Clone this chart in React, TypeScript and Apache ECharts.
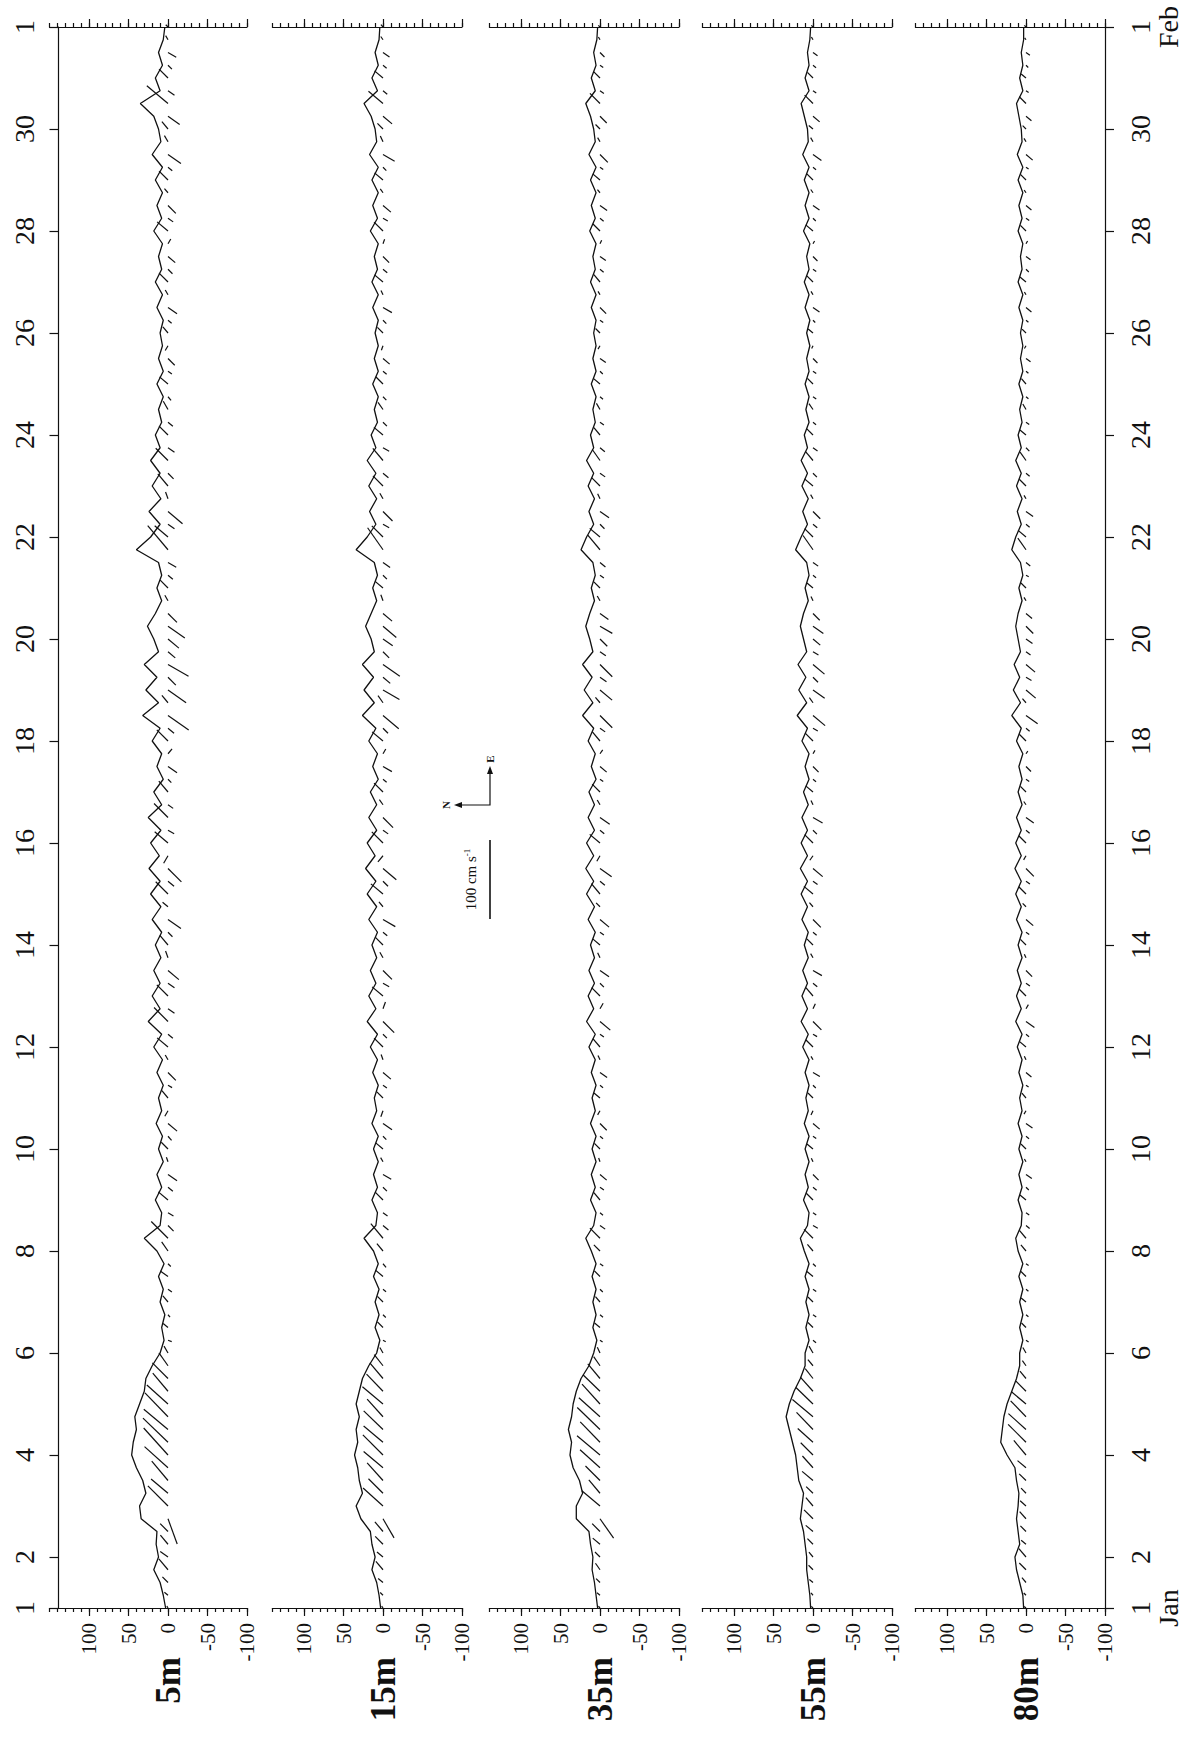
import React, { useEffect, useRef } from "react";
import * as echarts from "echarts";

// ---------- data ----------
const depthLabels = ["5m", "15m", "35m", "55m", "80m"];
const valueTicks = [100, 50, 0, -50, -100];
// days since Jan 1 00:00 at which date ticks are drawn
const dayTickValues = [0, 1, 3, 5, 7, 9, 11, 13, 15, 17, 19, 21, 23, 25, 27, 29, 31];
const dayTickLabels = ["1", "2", "4", "6", "8", "10", "12", "14", "16", "18", "20", "22", "24", "26", "28", "30", "1"];
const monthLabels = ["Jan", "Feb"];
const samplesPerDay = 4; // 6-hourly samples

// speed (cm/s), 6-hourly from Jan 1 00:00 to Feb 1 00:00
const speed5m = [
  3, 6, 10, 18, 12, 15, 14, 34, 36, 28, 32, 40, 46, 44, 40, 42, 36, 30, 28, 20,
  10, 5, 8, 4, 10, 6, 12, 5, 14, 30, 10, 8, 16, 8, 14, 6, 12, 7, 15, 8,
  12, 6, 14, 7, 18, 8, 25, 10, 20, 10, 18, 9, 16, 8, 20, 9, 22, 10, 24, 11,
  22, 9, 25, 8, 18, 6, 14, 8, 20, 10, 32, 12, 28, 14, 30, 12, 18, 26, 16, 8,
  14, 8, 12, 40, 22, 10, 24, 9, 20, 10, 22, 10, 16, 8, 12, 6, 14, 6, 12, 7,
  10, 6, 14, 7, 16, 8, 12, 7, 18, 8, 14, 7, 16, 7, 20, 9, 12, 18, 35, 10,
  16, 7, 12, 6, 4,
];
const speed15m = [
  3, 5, 8, 14, 10, 14, 16, 28, 34, 26, 30, 32, 36, 32, 34, 30, 34, 30, 26, 18,
  8, 4, 10, 5, 10, 5, 12, 6, 12, 24, 9, 7, 14, 7, 12, 6, 12, 6, 14, 8,
  11, 6, 13, 7, 16, 7, 20, 9, 18, 9, 16, 8, 14, 7, 18, 8, 20, 9, 22, 10,
  20, 8, 18, 8, 16, 6, 13, 7, 18, 9, 26, 11, 24, 12, 26, 11, 15, 22, 15, 8,
  13, 7, 11, 34, 20, 9, 17, 8, 18, 9, 20, 9, 15, 7, 11, 6, 13, 6, 11, 6,
  10, 6, 13, 6, 14, 7, 11, 6, 16, 7, 13, 6, 14, 6, 17, 8, 10, 15, 24, 7,
  14, 6, 10, 5, 4,
];
const speed35m = [
  3, 5, 7, 10, 9, 12, 14, 30, 30, 22, 26, 34, 38, 36, 40, 36, 34, 30, 24, 14,
  8, 4, 9, 5, 9, 5, 10, 5, 11, 18, 8, 5, 12, 6, 11, 5, 10, 5, 12, 6,
  10, 5, 11, 6, 14, 6, 17, 8, 15, 7, 14, 7, 12, 6, 15, 7, 17, 8, 18, 8,
  17, 7, 15, 7, 14, 5, 11, 6, 15, 8, 22, 9, 20, 10, 22, 9, 13, 18, 13, 7,
  11, 6, 9, 24, 17, 8, 14, 7, 15, 8, 17, 8, 12, 6, 9, 5, 11, 5, 9, 5,
  8, 5, 11, 5, 12, 6, 9, 5, 13, 6, 11, 5, 12, 5, 14, 6, 8, 12, 18, 6,
  11, 5, 8, 4, 3,
];
const speed55m = [
  3, 4, 6, 8, 8, 10, 12, 16, 14, 12, 18, 20, 22, 26, 30, 34, 30, 24, 16, 10,
  10, 5, 9, 5, 9, 5, 10, 5, 11, 16, 7, 5, 12, 6, 10, 5, 10, 5, 11, 6,
  9, 5, 10, 5, 13, 6, 15, 7, 14, 7, 13, 6, 11, 6, 14, 7, 15, 7, 16, 7,
  15, 7, 14, 6, 12, 5, 10, 5, 14, 7, 20, 8, 18, 9, 19, 8, 12, 16, 12, 6,
  10, 5, 8, 22, 15, 7, 13, 6, 14, 7, 15, 7, 11, 5, 9, 5, 10, 5, 8, 4,
  8, 4, 10, 5, 11, 5, 8, 4, 12, 5, 10, 5, 11, 5, 13, 6, 7, 11, 15, 5,
  10, 5, 7, 4, 3,
];
const speed80m = [
  3, 4, 8, 12, 14, 8, 10, 12, 10, 9, 12, 14, 24, 32, 30, 28, 24, 18, 12, 8,
  8, 4, 8, 4, 8, 4, 9, 4, 10, 13, 6, 5, 10, 5, 9, 4, 9, 5, 10, 5,
  8, 4, 9, 5, 11, 5, 13, 6, 12, 6, 11, 5, 10, 5, 12, 6, 13, 6, 14, 6,
  13, 6, 12, 5, 10, 5, 9, 4, 12, 6, 18, 7, 16, 8, 15, 7, 10, 13, 10, 5,
  9, 4, 7, 18, 13, 6, 11, 5, 12, 6, 13, 6, 10, 5, 8, 4, 9, 4, 7, 4,
  7, 4, 9, 4, 10, 5, 7, 4, 10, 5, 9, 4, 10, 4, 11, 5, 6, 9, 12, 4,
  8, 4, 6, 3, 3,
];

// stick direction (degrees clockwise from north), same sampling
const dir5m = [
  60, 40, 45, 50, 35, 50, 45, 250, 45, 40, 50, 42, 48, 44, 40, 46, 42, 50, 45, 55,
  60, 200, 40, 230, 50, 215, 35, 225, 55, 45, 225, 210, 40, 220, 215, 70, 45, 230, 220, 300,
  50, 210, 225, 60, 40, 220, 45, 215, 45, 215, 220, 70, 50, 225, 215, 40, 45, 220, 225, 300,
  40, 210, 45, 215, 50, 225, 215, 130, 45, 220, 215, 50, 215, 225, 210, 220, 220, 215, 225, 60,
  45, 220, 210, 50, 40, 215, 220, 70, 50, 225, 45, 215, 45, 220, 60, 230, 40, 215, 225, 300,
  50, 220, 215, 60, 45, 225, 220, 120, 40, 215, 225, 50, 45, 220, 215, 60, 50, 215, 40, 215,
  45, 225, 210, 60, 45,
];
const dir15m = [
  55, 45, 40, 50, 40, 45, 50, 240, 42, 45, 48, 40, 45, 40, 44, 48, 40, 46, 50, 52,
  60, 210, 45, 225, 45, 220, 40, 230, 50, 50, 220, 215, 45, 225, 210, 60, 40, 225, 215, 290,
  45, 215, 220, 70, 45, 225, 225, 110, 40, 210, 225, 60, 45, 220, 210, 50, 40, 225, 220, 310,
  45, 215, 225, 55, 45, 220, 210, 120, 40, 225, 220, 55, 210, 220, 215, 225, 215, 220, 220, 70,
  40, 225, 215, 55, 45, 210, 225, 60, 45, 220, 50, 210, 40, 225, 55, 225, 45, 220, 220, 290,
  45, 225, 210, 65, 40, 220, 225, 110, 45, 210, 220, 55, 40, 225, 210, 65, 45, 220, 40, 220,
  40, 220, 215, 55, 50,
];
const dir35m = [
  50, 40, 45, 55, 45, 40, 45, 235, 40, 50, 45, 42, 40, 46, 44, 42, 48, 44, 50, 55,
  65, 215, 40, 220, 50, 225, 45, 215, 45, 45, 215, 220, 50, 215, 220, 70, 45, 220, 225, 300,
  40, 220, 215, 65, 50, 215, 220, 120, 45, 225, 215, 65, 40, 215, 220, 45, 50, 220, 215, 300,
  40, 220, 215, 60, 45, 215, 220, 125, 50, 215, 225, 50, 220, 215, 225, 215, 225, 210, 215, 60,
  45, 215, 220, 50, 40, 225, 215, 65, 45, 215, 55, 220, 50, 215, 60, 220, 40, 225, 215, 300,
  45, 215, 225, 60, 50, 220, 215, 115, 45, 220, 215, 50, 40, 215, 225, 60, 45, 225, 45, 215,
  45, 215, 225, 60, 45,
];
const dir55m = [
  45, 50, 40, 45, 50, 45, 40, 45, 50, 44, 40, 48, 45, 42, 46, 40, 44, 48, 52, 50,
  60, 220, 45, 215, 45, 215, 40, 225, 50, 45, 210, 215, 45, 220, 225, 65, 40, 215, 220, 295,
  45, 225, 210, 60, 45, 210, 225, 115, 50, 220, 210, 60, 45, 220, 225, 50, 40, 215, 220, 305,
  45, 225, 210, 65, 40, 220, 225, 120, 45, 210, 220, 55, 215, 225, 220, 210, 220, 215, 225, 65,
  40, 220, 215, 55, 45, 220, 225, 60, 40, 225, 50, 215, 45, 220, 55, 215, 45, 215, 225, 295,
  40, 225, 215, 60, 45, 215, 225, 120, 40, 225, 215, 55, 45, 220, 215, 60, 40, 220, 45, 215,
  45, 220, 215, 60, 45,
];
const dir80m = [
  40, 45, 50, 45, 50, 40, 45, 48, 42, 46, 44, 40, 50, 45, 42, 46, 40, 45, 50, 55,
  60, 215, 45, 220, 40, 220, 45, 215, 50, 50, 220, 215, 40, 225, 215, 60, 45, 220, 215, 300,
  50, 215, 220, 65, 40, 220, 215, 120, 45, 215, 225, 65, 45, 215, 220, 45, 45, 215, 225, 300,
  45, 220, 215, 55, 45, 215, 225, 125, 45, 220, 215, 50, 220, 210, 220, 215, 215, 225, 220, 60,
  45, 210, 220, 55, 40, 220, 215, 60, 45, 220, 55, 225, 40, 215, 60, 220, 50, 220, 215, 300,
  45, 220, 220, 60, 40, 225, 215, 120, 45, 215, 220, 55, 45, 215, 220, 60, 45, 220, 45, 215,
  40, 225, 215, 55, 45,
];

const speeds = [speed5m, speed15m, speed35m, speed55m, speed80m];
const dirs = [dir5m, dir15m, dir35m, dir55m, dir80m];

// ---------- layout ----------
const W = 1193;
const H = 1743;
const PX = 0.79; // pixels per cm/s
const ZERO_X = [168, 383, 600, 813, 1026];
const AXIS_MAX = [150, 140, 140, 140, 140];
const TOP = 27;
const BOTTOM = 1608;
const FONT = "'Liberation Serif', 'Times New Roman', serif";
const INK = "#111";

function buildOption() {
  const grids: any[] = [];
  const xAxes: any[] = [];
  const yAxes: any[] = [];
  const series: any[] = [];

  depthLabels.forEach((_, i) => {
    const left = ZERO_X[i] - AXIS_MAX[i] * PX;
    grids.push({ left, top: TOP, width: (AXIS_MAX[i] + 100) * PX, height: BOTTOM - TOP });

    const baseX = {
      gridIndex: i,
      type: "value",
      inverse: true,
      min: -100,
      max: AXIS_MAX[i],
      splitLine: { show: false },
    };
    const lineStyle = { color: INK, width: 1.2 };
    xAxes.push({
      ...baseX,
      position: "bottom",
      interval: 10,
      axisLine: { show: true, onZero: false, lineStyle },
      axisTick: { show: true, length: 4, lineStyle },
      axisLabel: { show: false },
    });
    xAxes.push({
      ...baseX,
      position: "bottom",
      axisLine: { show: false, onZero: false },
      axisTick: { show: true, length: 8, lineStyle, customValues: valueTicks },
      axisLabel: {
        show: true,
        customValues: valueTicks,
        rotate: 90,
        margin: 15,
        color: INK,
        fontSize: 21,
        fontFamily: FONT,
      },
    });
    xAxes.push({
      ...baseX,
      position: "top",
      interval: 10,
      axisLine: { show: true, onZero: false, lineStyle },
      axisTick: { show: true, length: 4, lineStyle },
      axisLabel: { show: false },
    });
    xAxes.push({
      ...baseX,
      position: "top",
      axisLine: { show: false, onZero: false },
      axisTick: { show: true, length: 8, lineStyle, customValues: valueTicks },
      axisLabel: { show: false },
    });

    const isLeft = i === 0;
    const isRight = i === depthLabels.length - 1;
    yAxes.push({
      gridIndex: i,
      type: "value",
      min: 0,
      max: 31,
      show: isLeft || isRight,
      position: isRight ? "right" : "left",
      offset: isLeft ? -9 : 0,
      splitLine: { show: false },
      axisLine: { show: true, onZero: false, lineStyle: { color: INK, width: 1.2 } },
      axisTick: { show: true, length: 9, customValues: dayTickValues, lineStyle: { color: INK, width: 1.2 } },
      axisLabel: {
        show: true,
        customValues: dayTickValues,
        rotate: 90,
        margin: isRight ? 21 : 20,
        color: INK,
        fontSize: 28,
        fontFamily: FONT,
        lineHeight: 28,
        formatter: (v: number) => {
          const k = dayTickValues.indexOf(Math.round(v));
          if (k < 0) return "";
          let s = dayTickLabels[k];
          if (isRight && k === 0) s += "\n" + monthLabels[0];
          if (isRight && k === dayTickValues.length - 1) s += "\n" + monthLabels[1];
          return s;
        },
      },
    });

    const sp = speeds[i];
    const dr = dirs[i];
    series.push({
      type: "line",
      xAxisIndex: i * 4,
      yAxisIndex: i,
      data: sp.map((s, j) => [s, j / samplesPerDay]),
      symbol: "none",
      silent: true,
      lineStyle: { color: INK, width: 1.3 },
    });
    series.push({
      type: "custom",
      xAxisIndex: i * 4,
      yAxisIndex: i,
      silent: true,
      encode: { x: 0, y: 2 },
      data: sp.map((s, j) => [s, dr[j], j / samplesPerDay]),
      renderItem: (_params: any, api: any) => {
        const s = api.value(0);
        const d = (api.value(1) * Math.PI) / 180;
        const t = api.value(2);
        const north = s * Math.cos(d);
        const east = s * Math.sin(d);
        const p0 = api.coord([0, t]);
        const pN = api.coord([north, t]);
        const unit = Math.abs(api.coord([1, t])[0] - p0[0]);
        return {
          type: "line",
          shape: { x1: p0[0], y1: p0[1], x2: pN[0], y2: p0[1] - east * unit },
          style: { stroke: INK, lineWidth: 1.2 },
        };
      },
    });
  });

  return {
    animation: false,
    backgroundColor: "#fff",
    grid: grids,
    xAxis: xAxes,
    yAxis: yAxes,
    series,
  };
}

export default function App() {
  const ref = useRef<HTMLDivElement>(null);
  useEffect(() => {
    if (!ref.current) return;
    const chart = echarts.init(ref.current, undefined, { renderer: "svg", width: W, height: H });
    chart.setOption(buildOption() as any);

    const z = chart.convertToPixel({ xAxisIndex: 4 }, 0) as number;
    const h = chart.convertToPixel({ xAxisIndex: 4 }, 100) as number;
    const bar = Math.abs(z - h);
    const barX = 490;
    const barTop = 840;
    const cornerY = 805;
    const graphics: any[] = [
      { type: "line", shape: { x1: barX, y1: barTop, x2: barX, y2: barTop + bar }, style: { stroke: INK, lineWidth: 1.6 } },
      {
        type: "text",
        x: 471,
        y: barTop + bar / 2,
        rotation: Math.PI / 2,
        style: {
          text: "100 cm s{sup|-1}",
          align: "center",
          verticalAlign: "middle",
          fill: INK,
          font: `15px ${FONT}`,
          rich: { sup: { fontSize: 9, verticalAlign: "top", padding: [0, 0, 8, 0], fontFamily: FONT } },
        },
      },
      { type: "polyline", shape: { points: [[458, cornerY], [barX, cornerY], [barX, 770]] }, style: { stroke: INK, lineWidth: 1.2, fill: "none" } },
      { type: "polygon", shape: { points: [[454, cornerY], [462, cornerY - 3], [462, cornerY + 3]] }, style: { fill: INK } },
      { type: "polygon", shape: { points: [[barX, 766], [barX - 3, 774], [barX + 3, 774]] }, style: { fill: INK } },
      { type: "text", x: 446, y: cornerY, rotation: Math.PI / 2, style: { text: "N", align: "center", verticalAlign: "middle", fill: INK, font: `bold 11px ${FONT}` } },
      { type: "text", x: barX, y: 759, rotation: Math.PI / 2, style: { text: "E", align: "center", verticalAlign: "middle", fill: INK, font: `bold 11px ${FONT}` } },
    ];
    depthLabels.forEach((lab, i) => {
      graphics.push({
        type: "text",
        x: ZERO_X[i],
        y: 1657,
        rotation: Math.PI / 2,
        style: { text: lab, align: "right", verticalAlign: "middle", fill: INK, font: `bold 35px ${FONT}` },
      });
    });
    chart.setOption({ graphic: graphics });
    return () => chart.dispose();
  }, []);
  return <div ref={ref} style={{ position: "absolute", left: 0, top: 0, width: W, height: H }} />;
}
